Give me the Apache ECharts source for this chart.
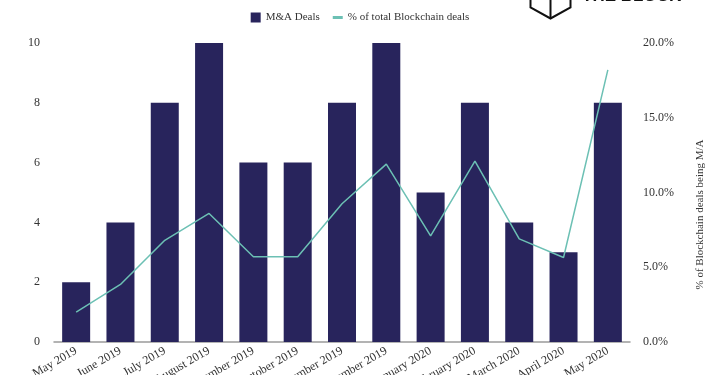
<!DOCTYPE html>
<html>
<head>
<meta charset="utf-8">
<script src="https://cdn.jsdelivr.net/npm/echarts@6/dist/echarts.min.js"></script>
<style>
  html, body { margin: 0; padding: 0; background: #fff; }
  #chart { width: 720px; height: 375px; }
</style>
</head>
<body>
<div id="chart"></div>
<script>
const months = ['May 2019', 'June 2019', 'July 2019', 'August 2019', 'September 2019', 'October 2019',
    'November 2019', 'December 2019', 'January 2020', 'February 2020', 'March 2020', 'April 2020', 'May 2020'];
const dealCounts = [2, 4, 8, 10, 6, 6, 8, 10, 5, 8, 4, 3, 8];
const sharePct = [2.0, 3.85, 6.8, 8.6, 5.7, 5.7, 9.25, 11.9, 7.1, 12.1, 6.9, 5.65, 18.2];
const leftTicks = [0, 10, 2];
const rightTicks = [0, 20, 5];

const serif = '"Liberation Serif", "DejaVu Serif", serif';
const navy = '#28245c';
const teal = '#6cc0b4';

const chart = echarts.init(document.getElementById('chart'), undefined, { renderer: 'canvas' });

chart.setOption({
    animation: false,
    textStyle: { fontFamily: serif },
    legend: {
        top: 7,
        left: 'center',
        itemWidth: 10,
        itemHeight: 10,
        itemGap: 13,
        textStyle: { fontFamily: serif, fontSize: 11, color: '#333' },
        data: [
            { name: 'M&A Deals', icon: 'rect' },
            { name: '% of total Blockchain deals', icon: 'path://M0,0 H10 V3 H0 Z' }
        ]
    },
    grid: { left: 54, right: 90, top: 43, bottom: 33, outerBoundsMode: 'none', containLabel: false },
    xAxis: {
        type: 'category',
        data: months,
        axisLine: { lineStyle: { color: '#9a9a9a', width: 1.5 } },
        axisTick: { show: false },
        axisLabel: {
            rotate: 30,
            interval: 0,
            margin: 8,
            fontFamily: serif,
            fontSize: 12,
            color: '#333'
        }
    },
    yAxis: [
        {
            type: 'value',
            min: leftTicks[0],
            max: leftTicks[1],
            interval: leftTicks[2],
            splitLine: { show: false },
            axisLine: { show: false },
            axisTick: { show: false },
            axisLabel: { margin: 14, fontFamily: serif, fontSize: 12, color: '#333' }
        },
        {
            type: 'value',
            min: rightTicks[0],
            max: rightTicks[1],
            interval: rightTicks[2],
            position: 'right',
            splitLine: { show: false },
            axisLine: { show: false },
            axisTick: { show: false },
            axisLabel: {
                margin: 13,
                fontFamily: serif,
                fontSize: 12,
                color: '#333',
                formatter: v => v.toFixed(1) + '%'
            },
            name: '% of Blockchain deals being M/A',
            nameLocation: 'middle',
            nameGap: 65,
            nameRotate: 90,
            nameTextStyle: { fontFamily: serif, fontSize: 11, color: '#333', padding: [0, 44, 0, 0] }
        }
    ],
    series: [
        {
            name: 'M&A Deals',
            type: 'bar',
            data: dealCounts,
            barWidth: 28,
            itemStyle: { color: navy }
        },
        {
            name: '% of total Blockchain deals',
            type: 'line',
            yAxisIndex: 1,
            data: sharePct,
            showSymbol: false,
            symbol: 'none',
            lineStyle: { color: teal, width: 1.5 },
            itemStyle: { color: teal }
        }
    ],
    graphic: [
        {
            type: 'group',
            left: 528,
            top: -21,
            children: [
                {
                    type: 'polyline',
                    shape: { points: [[0, 0], [0, 26], [20, 37], [40, 26], [40, 0]] },
                    style: { stroke: '#111', lineWidth: 2, fill: 'none' }
                },
                {
                    type: 'polyline',
                    shape: { points: [[0, 4], [20, 15], [40, 4]] },
                    style: { stroke: '#111', lineWidth: 2, fill: 'none' }
                },
                {
                    type: 'line',
                    shape: { x1: 20, y1: 15, x2: 20, y2: 37 },
                    style: { stroke: '#111', lineWidth: 2 }
                }
            ]
        },
        {
            type: 'text',
            left: 582,
            top: -12,
            style: {
                text: 'THE BLOCK',
                font: 'bold 17px "Liberation Sans", Arial, sans-serif',
                fill: '#111'
            }
        }
    ]
});
</script>
</body>
</html>
